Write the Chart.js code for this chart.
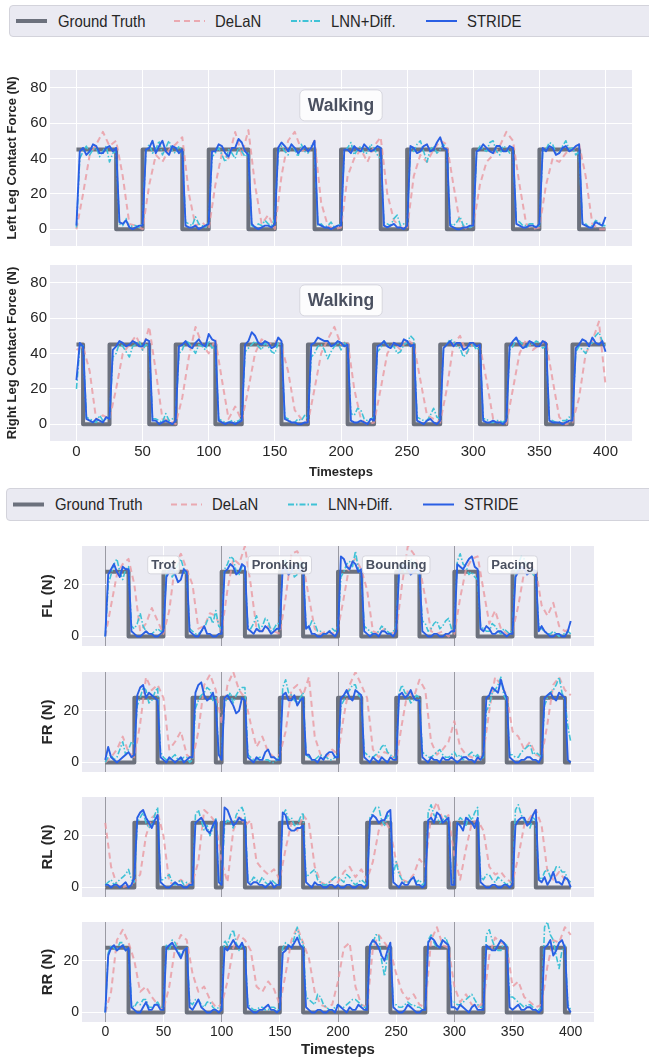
<!DOCTYPE html>
<html>
<head>
<meta charset="utf-8">
<script src="https://cdn.jsdelivr.net/npm/chart.js@4.4.1/dist/chart.umd.min.js"></script>
<style>
  body { margin: 0; background: #fff; font-family: "Liberation Sans", Arial, sans-serif; }
  #page { position: relative; width: 649px; height: 1057px; overflow: hidden; }
  #page canvas { position: absolute; left: 0; }
  .legend { position: absolute; width: 680px; background: #eaeaf2; border: 1px solid #d3d3db; border-radius: 4px; box-sizing: border-box; }
  .legend svg { position: absolute; top: 0; }
  .legend span { position: absolute; top: 0; height: 100%; display: flex; align-items: center; font-size: 16.5px; color: #262626; transform: scaleX(0.9); transform-origin: left center; white-space: nowrap; }
</style>
</head>
<body>
<div id="page"></div>
<script>
// ---- data ----
const X_TICKS = [0, 50, 100, 150, 200, 250, 300, 350, 400];
const Y_TICKS_WALK = [0, 20, 40, 60, 80];
const Y_TICKS_GAIT = [0, 20];
const STEP = 5;        // DeLaN read every 5 timesteps
const STEP_FINE = 2.5; // LNN+Diff. and STRIDE read every 2.5 timesteps
const SERIES = ['Ground Truth', 'DeLaN', 'LNN+Diff.', 'STRIDE'];
const GAIT_NAMES = ['Trot', 'Pronking', 'Bounding', 'Pacing'];
const GAIT_CENTERS = [50, 150, 250, 350];
const GAIT_BOUNDS = [0, 100, 200, 300];

// ground truth as change points [t, value]
const LEFT_GT = [[0,45],[30,0],[50,45],[80,0],[100,45],[130,0],[150,45],[180,0],[200,45],[230,0],[250,45],[280,0],[300,45],[330,0],[350,45],[380,0],[400,0]];
const RIGHT_GT = [[0,45],[5,0],[25,45],[55,0],[75,45],[105,0],[125,45],[155,0],[175,45],[205,0],[225,45],[255,0],[275,45],[305,0],[325,45],[355,0],[375,45],[400,45]];
const FL_GT = [[0,25],[20,0],[50,25],[70,0],[100,25],[120,0],[150,25],[170,0],[200,25],[220,0],[250,25],[270,0],[300,25],[320,0],[350,25],[370,0],[400,0]];
const FR_GT = [[0,0],[25,25],[45,0],[75,25],[95,0],[100,25],[120,0],[150,25],[170,0],[200,25],[220,0],[250,25],[270,0],[325,25],[345,0],[375,25],[395,0],[400,0]];
const RL_GT = [[0,0],[25,25],[45,0],[75,25],[95,0],[100,25],[120,0],[150,25],[170,0],[225,25],[245,0],[275,25],[295,0],[300,25],[320,0],[350,25],[370,0],[400,0]];
const RR_GT = [[0,25],[20,0],[50,25],[70,0],[100,25],[120,0],[150,25],[170,0],[225,25],[245,0],[275,25],[295,0],[325,25],[345,0],[375,25],[395,0],[400,0]];

const LEFT_DELAN = [0,20,42,48,55,47,50,30,3,2,0, 25,42,38,45,48,52,20,2,4,0, 25,43,40,55,42,56,25,3,8,0, 30,50,55,45,43,50,15,2,0,1, 30,40,45,38,47,52,20,5,1,0, 30,42,38,45,50,48,25,3,0,2, 25,38,42,47,55,50,25,3,0,1, 25,40,38,43,45,48,30,3,0,0];
const LEFT_LNN = [1,40,44,47,42,45,46,41,44,47,38,43,44,3,2,6,1,2,2,1, 3,44,48,43,45,50,42,46,50,44,43,47,44,4,3,2,7,3,2,1, 4,41,43,46,42,38,45,43,40,46,44,41,43,2,1,3,2,5,3,2, 6,43,47,44,42,48,45,41,48,44,43,47,46,2,3,1,2,4,1,2, 3,44,46,49,42,45,47,43,43,48,46,42,40,4,3,2,6,8,2,3, 3,46,44,48,50,44,38,45,47,43,45,48,44,3,2,4,7,2,3,1, 2,43,47,45,44,49,50,44,42,47,46,43,44,5,4,2,2,3,3,1, 2,44,45,49,48,43,43,47,50,45,46,42,44,4,3,1,2,5,4,2, 2];
const LEFT_STRIDE = [2,44,46,42,44,48,47,43,43,46,47,44,46,4,3,5,1,0,1,2, 2,45,46,50,43,47,50,44,42,47,46,43,45,2,1,1,2,0,1,2, 3,44,44,48,47,43,41,46,46,51,49,44,42,3,1,0,1,2,2,1, 3,46,49,47,44,48,46,43,45,47,44,46,50,3,2,1,1,0,1,2, 2,45,45,43,47,45,44,48,46,44,45,47,46,2,1,2,3,1,1,0, 2,47,46,43,44,47,48,44,45,49,52,46,45,2,1,0,0,1,1,2, 2,44,45,48,46,44,43,47,47,44,44,47,46,3,2,1,1,2,2,1, 3,46,44,47,46,42,43,46,47,44,45,47,48,3,2,1,1,4,3,2, 7];

const RIGHT_DELAN = [42,44,30,2,5,3,20,40,45,50, 42,55,30,3,2,0,15,38,55,45, 40,48,25,3,10,2,20,40,48,45, 47,44,30,8,3,1,20,40,48,55, 45,47,20,3,0,1,20,40,46,42, 48,45,25,5,3,1,20,45,50,40, 46,44,25,3,1,0,20,40,48,42, 45,47,25,4,0,1,15,40,47,58, 22];
const RIGHT_LNN = [20,43,45,4,3,2,1,5,2,3,4,38,40,46,44,41,38,44,45,47, 42,45,44,3,3,2,1,6,2,3,4,40,42,47,46,43,40,45,44,42, 47,43,45,3,2,1,1,2,1,2,3,41,43,45,47,44,42,46,44,41, 40,46,45,4,3,1,1,3,2,5,3,38,40,44,45,42,37,41,44,46, 42,46,44,6,5,9,8,3,2,3,4,41,43,47,45,44,44,40,41,45, 46,50,48,4,3,2,2,5,9,4,3,43,45,48,47,44,43,38,40,44, 45,42,44,3,3,1,1,2,2,1,3,42,44,48,47,45,43,46,45,47, 46,43,44,3,2,1,1,2,2,4,3,41,44,42,40,45,46,50,52,47, 44];
const RIGHT_STRIDE = [25,46,44,3,2,1,3,2,1,4,3,42,44,47,46,44,45,47,46,44, 44,48,47,2,2,0,1,2,1,0,2,44,45,47,44,43,46,48,45,44, 51,48,47,2,1,0,1,1,0,1,2,45,47,52,50,46,45,47,46,43, 44,49,47,3,2,1,1,0,0,1,1,45,46,49,48,47,47,44,45,47, 46,44,45,2,1,1,2,1,0,3,2,44,45,47,44,43,46,45,44,48, 47,44,45,2,1,0,2,3,1,0,2,43,45,47,44,46,46,42,43,46, 46,44,45,2,1,1,2,1,1,0,2,44,47,49,45,43,44,47,46,44, 44,47,46,2,1,1,1,0,1,2,2,43,45,48,47,44,49,46,45,47, 41];

const FL_DELAN = [0,12,24,28,30,20,2,5,11,6, 1,10,28,32,26,20,3,4,9,8, 2,18,30,28,35,20,3,2,4,2, 1,15,32,33,28,15,3,1,2,1, 3,15,28,30,26,18,2,1,3,1, 2,20,35,32,27,15,2,1,2,0, 1,15,26,30,31,18,5,10,3,1, 2,12,25,28,26,12,8,13,4,2, 3];
const FL_LNN = [0,20,24,28,30,25,22,26,27,4,3,5,9,4,2,1,1,2,3,2, 2,25,27,23,25,28,30,26,24,3,2,1,1,2,3,6,8,5,10,4, 3,26,28,31,30,25,24,27,26,4,3,5,8,3,4,7,6,2,3,5, 5,27,30,25,27,23,24,29,28,4,3,6,5,2,2,1,1,2,3,2, 4,23,25,28,29,27,33,26,24,4,3,2,1,1,2,4,3,2,1,2, 4,26,28,25,26,30,29,25,24,6,5,2,3,5,6,3,4,6,7,3, 3,29,32,28,27,24,25,23,22,4,3,2,2,5,4,2,1,3,2,1, 3,25,28,31,30,27,26,24,23,4,3,2,1,1,2,1,0,1,1,2, 1];
const FL_STRIDE = [0,24,26,28,25,23,27,26,26,2,1,0,0,1,2,1,1,0,0,1, 2,23,25,27,24,21,22,26,25,2,1,0,0,2,4,1,1,0,0,1, 1,25,26,28,27,24,25,28,27,3,2,1,3,2,2,4,3,1,2,3, 3,27,26,24,25,28,27,25,26,3,4,1,1,0,0,1,1,2,1,0, 2,31,30,27,26,29,28,25,26,2,1,0,1,1,0,2,2,1,1,0, 2,25,27,28,26,24,25,26,25,2,1,0,0,1,1,0,0,1,1,2, 2,28,27,26,28,30,31,27,26,3,2,4,3,1,1,2,2,1,0,1, 1,23,25,27,26,24,25,26,25,2,4,2,1,0,0,1,1,0,0,2, 6];

const FR_DELAN = [0,2,5,10,4,2,15,33,28,30, 25,5,8,12,3,1,12,30,34,28, 15,30,35,28,25,15,6,10,4,2, 3,12,28,30,26,33,10,3,2,5, 3,18,30,35,30,25,5,2,4,3, 1,15,28,25,32,28,8,3,5,8, 16,6,3,2,1,4,20,33,30,26, 12,10,5,8,3,2,15,30,33,28, 26];
const FR_LNN = [0,2,3,1,2,5,8,3,5,8,7,22,25,29,28,23,24,27,29,4, 2,1,1,2,3,1,1,2,2,0,1,21,24,26,27,29,28,24,25,3, 3,23,25,27,23,26,28,29,29,3,2,1,1,2,2,1,1,0,0,1, 2,29,32,27,26,24,23,25,27,3,2,1,1,2,3,2,2,1,1,2, 3,22,24,27,28,30,30,26,25,4,3,2,2,3,4,6,7,4,3,2, 2,27,30,27,26,23,24,26,25,4,3,2,2,3,4,5,3,2,2,3, 4,2,3,1,2,3,4,2,3,1,2,20,22,27,28,30,33,26,24,3, 3,2,2,4,5,6,7,3,4,3,2,22,25,27,28,30,33,27,24,14, 8];
const FR_STRIDE = [1,6,2,1,0,1,2,3,4,2,3,26,29,30,25,27,26,25,24,2, 1,0,2,1,0,1,2,0,1,2,2,27,30,31,26,24,25,27,22,3, 1,25,26,24,22,19,20,25,24,2,1,0,2,1,1,4,5,2,2,1, 1,26,27,24,24,26,22,24,25,3,3,1,1,0,2,1,3,4,4,2, 2,25,26,28,25,24,28,27,26,2,1,0,2,1,0,2,1,0,2,1, 1,26,27,25,26,28,25,24,24,2,1,0,2,1,1,0,2,1,1,2, 1,0,1,2,2,1,1,0,2,1,3,25,26,29,28,27,32,28,25,2, 1,0,0,1,1,2,2,1,1,0,2,25,26,27,25,24,27,26,25,1, 0];

const RL_DELAN = [25,8,1,0,1,2,5,20,27,29, 20,2,1,3,1,2,10,30,28,25, 10,2,22,28,24,26,10,7,5,7, 3,15,25,22,28,25,8,2,1,3, 2,6,8,4,7,3,10,22,26,22, 10,3,2,5,11,8,28,33,26,28, 12,3,15,25,26,22,8,5,6,3, 2,12,24,27,30,24,6,3,6,3, 2];
const RL_LNN = [1,2,3,1,2,3,4,5,7,3,2,25,27,29,25,23,24,28,31,3, 3,4,5,2,1,2,3,1,2,1,1,28,30,26,22,24,20,23,27,2, 2,24,26,25,23,28,30,31,28,3,2,4,3,2,4,2,1,3,2,1, 1,28,30,26,27,24,24,27,29,4,5,6,7,3,2,1,1,2,3,4, 4,3,2,5,4,2,1,2,3,2,1,27,29,31,31,26,24,28,27,5, 10,5,3,2,2,3,4,2,3,1,2,29,32,28,27,25,26,28,25,3, 3,25,27,26,24,28,26,29,31,4,3,5,5,3,2,4,3,2,1,2, 2,30,32,28,26,24,23,27,26,4,3,6,7,4,5,8,8,6,6,3, 2];
const RL_STRIDE = [1,1,0,1,1,0,1,2,0,1,4,27,29,30,27,25,23,26,28,2, 1,0,0,1,2,1,1,0,0,1,1,25,26,27,25,22,21,24,26,2, 1,31,30,27,24,25,27,26,26,2,1,2,2,1,1,0,1,2,0,1, 1,29,28,23,22,22,23,23,24,2,1,0,2,1,1,0,0,1,1,0, 1,0,0,1,1,0,0,1,1,0,1,26,28,27,25,26,26,29,30,2, 1,0,2,1,1,3,4,1,1,0,1,26,27,25,29,28,25,26,27,1, 1,25,24,22,27,26,25,23,27,2,1,0,0,1,1,0,0,1,1,0, 1,24,26,27,27,24,25,28,30,3,2,4,1,3,6,2,2,1,4,3, 0];

const RR_DELAN = [0,8,28,32,27,20,8,10,6,3, 1,10,25,30,28,15,8,10,5,2, 3,12,25,30,28,24,10,8,12,9, 3,15,28,33,27,21,8,3,2,3, 12,25,27,10,3,2,25,30,27,24, 15,8,5,7,3,2,28,33,26,25, 10,4,7,3,2,4,22,29,27,26, 10,12,6,4,2,3,18,28,27,33, 30];
const RR_LNN = [0,23,26,25,24,27,27,24,25,3,2,4,3,5,5,2,2,3,4,2, 2,26,24,28,27,24,22,24,25,4,3,5,5,3,2,4,4,2,1,2, 2,28,26,30,32,27,24,26,25,3,2,1,1,2,2,1,1,2,2,1, 1,25,27,26,25,29,33,28,27,6,5,4,3,7,6,3,2,1,1,2, 3,2,2,3,4,5,5,4,3,2,2,25,27,30,30,20,14,22,26,3, 3,2,2,3,4,3,3,2,2,1,1,28,30,27,25,26,28,29,26,4, 4,3,3,4,5,6,7,5,3,2,2,30,32,28,25,24,24,27,26,6, 6,5,4,3,2,3,3,2,1,1,2,33,35,30,28,22,17,24,26,3, 1];
const RR_STRIDE = [0,22,25,26,24,25,26,24,25,2,1,0,0,2,4,1,1,3,3,1, 1,25,26,27,25,23,21,24,25,2,1,3,5,2,1,0,0,1,1,0, 1,25,24,26,28,26,25,27,24,2,1,0,0,1,1,2,3,1,1,0, 1,23,24,26,25,27,29,26,25,2,1,0,0,1,1,0,0,1,1,0, 3,2,1,0,2,1,1,3,2,1,1,26,28,27,25,22,20,24,27,2, 1,0,0,1,3,2,1,0,0,1,1,27,29,28,26,25,28,27,26,2, 2,1,3,2,1,0,2,3,1,1,1,26,25,24,24,26,28,27,25,2, 1,2,3,1,1,2,2,1,1,0,1,25,26,28,22,24,27,28,25,2, 0];

// ---- styling ----
const FONT = '"Liberation Sans", Arial, sans-serif';
Chart.defaults.font.family = FONT;
const INK = '#262626';
const COLORS = { gt: '#6c717d', delan: 'rgba(234,152,160,0.8)', lnn: '#3fc2d6', stride: '#2a5fe4' };
const DASH = { gt: [], delan: [6, 4], lnn: [6, 2, 1.5, 2], stride: [] };
const WIDTH = { gt: 4, delan: 2, lnn: 1.6, stride: 1.9 };
const KEYS = ['gt', 'delan', 'lnn', 'stride'];

const page = document.getElementById('page');

// legends (html)
function legend(left, topPx, height) {
  const box = document.createElement('div');
  box.className = 'legend';
  box.style.left = left + 'px'; box.style.top = topPx + 'px'; box.style.height = height + 'px';
  const lineX = [5, 163, 280, 415], textX = [48, 205, 321, 457];
  KEYS.forEach((k, i) => {
    const svg = document.createElementNS('http://www.w3.org/2000/svg', 'svg');
    svg.setAttribute('width', 33); svg.setAttribute('height', height);
    svg.style.left = lineX[i] + 'px';
    const ln = document.createElementNS('http://www.w3.org/2000/svg', 'line');
    ln.setAttribute('x1', 1); ln.setAttribute('x2', 32);
    ln.setAttribute('y1', height / 2 - 1); ln.setAttribute('y2', height / 2 - 1);
    ln.setAttribute('stroke', COLORS[k]); ln.setAttribute('stroke-width', Math.max(WIDTH[k], 2));
    if (DASH[k].length) ln.setAttribute('stroke-dasharray', DASH[k].join(' '));
    svg.appendChild(ln); box.appendChild(svg);
    const t = document.createElement('span');
    t.textContent = SERIES[i];
    t.style.left = textX[i] + 'px';
    box.appendChild(t);
  });
  page.appendChild(box);
}
legend(9, 5, 32);
legend(6, 488, 33);

// plugins
const bgPlugin = {
  id: 'bg',
  beforeDraw(chart) {
    const { ctx, chartArea: a } = chart;
    ctx.save();
    ctx.fillStyle = '#eaeaf2';
    ctx.fillRect(a.left, a.top, a.right - a.left, a.bottom - a.top);
    ctx.restore();
  }
};
const boxLabelPlugin = {
  id: 'boxLabels',
  afterDatasetsDraw(chart, args, opts) {
    if (!opts.items) return;
    const { ctx, scales: { x, y } } = chart;
    ctx.save();
    ctx.font = opts.font;
    ctx.textAlign = 'center';
    ctx.textBaseline = 'middle';
    opts.items.forEach(it => {
      const cx = x.getPixelForValue(it.x), cy = y.getPixelForValue(it.y);
      const w = ctx.measureText(it.text).width + 2 * opts.padX, h = opts.h;
      ctx.beginPath();
      ctx.roundRect(cx - w / 2, cy - h / 2, w, h, opts.radius);
      ctx.fillStyle = 'rgba(255,255,255,0.85)';
      ctx.fill();
      ctx.strokeStyle = '#d6d6de';
      ctx.lineWidth = 1;
      ctx.stroke();
      ctx.fillStyle = '#4a5060';
      ctx.fillText(it.text, cx, cy + 1);
    });
    ctx.restore();
  }
};

function dataset(k, data) {
  return {
    label: SERIES[KEYS.indexOf(k)],
    data: data,
    borderColor: COLORS[k],
    borderWidth: WIDTH[k],
    borderDash: DASH[k],
    stepped: k === 'gt',
    order: 4 - KEYS.indexOf(k),
    pointRadius: 0,
    tension: 0,
    borderJoinStyle: 'round',
    fill: false
  };
}
const pts = (vals, step) => vals.map((v, i) => ({ x: i * step, y: v }));
const steps = pairs => pairs.map(([x, y]) => ({ x, y }));

function plot(p) {
  const cv = document.createElement('canvas');
  cv.width = 649; cv.height = p.h;
  cv.style.top = p.top + 'px';
  page.appendChild(cv);
  const gait = p.gait;
  new Chart(cv, {
    type: 'line',
    data: {
      datasets: [
        dataset('gt', steps(p.gt)),
        dataset('delan', pts(p.delan, STEP)),
        dataset('lnn', pts(p.lnn, STEP_FINE)),
        dataset('stride', pts(p.stride, STEP_FINE))
      ]
    },
    options: {
      responsive: false,
      animation: false,
      events: [],
      layout: { padding: { left: 0, right: p.right, top: 0, bottom: 0 } },
      plugins: {
        legend: { display: false },
        tooltip: { enabled: false },
        boxLabels: p.labels
      },
      scales: {
        x: {
          type: 'linear', min: -20, max: 420,
          afterBuildTicks: s => { s.ticks = X_TICKS.map(v => ({ value: v })); },
          afterFit: s => { s.height = p.xh; s.paddingLeft = 0; s.paddingRight = 0; },
          border: { display: false },
          grid: {
            drawTicks: false, lineWidth: 1,
            color: c => (gait && c.tick && GAIT_BOUNDS.includes(c.tick.value)) ? '#9a9aa3' : '#ffffff'
          },
          ticks: { display: p.showX, padding: 2, color: INK, font: { size: p.tick } },
          title: { display: p.showX, text: 'Timesteps', color: INK, font: { size: p.xtSize, weight: 'bold' }, padding: { top: 0, bottom: p.xtPad } }
        },
        y: {
          min: p.ymin, max: p.ymax,
          afterBuildTicks: s => { s.ticks = p.yticks.map(v => ({ value: v })); },
          afterFit: s => { s.width = p.yw; s.paddingTop = 0; s.paddingBottom = 0; },
          border: { display: false },
          grid: { drawTicks: false, color: '#ffffff', lineWidth: 1 },
          ticks: { padding: 3, color: INK, font: { size: p.tick } },
          title: { display: true, text: p.ytitle, color: INK, font: { size: p.ytSize, weight: 'bold' }, padding: { top: p.ytPad, bottom: 0 } }
        }
      }
    },
    plugins: [bgPlugin, boxLabelPlugin]
  });
}

const walkLabel = { items: [{ x: 200, y: 70, text: 'Walking' }], font: 'bold 17.5px ' + FONT, padX: 8, h: 31, radius: 5 };
const gaitLabel = { items: GAIT_NAMES.map((n, i) => ({ x: GAIT_CENTERS[i], y: 27.7, text: n })), font: 'bold 13px ' + FONT, padX: 3.5, h: 18, radius: 3 };
const WALK_CFG = { yw: 50, right: 17, ymin: -9.5, ymax: 90, yticks: Y_TICKS_WALK, tick: 15, ytSize: 13, ytPad: 5, xtSize: 13, xtPad: 2.5, gait: false };
const GAIT_CFG = { yw: 82, right: 55, ymin: -3.7, ymax: 35, yticks: Y_TICKS_GAIT, tick: 14, ytSize: 15, ytPad: 39, xtSize: 15, xtPad: 0, gait: true, h: 100, xh: 0, showX: false, labels: {} };

plot(Object.assign({}, WALK_CFG, { top: 70, h: 176, xh: 0, showX: false, ytitle: 'Left Leg Contact Force (N)', gt: LEFT_GT, delan: LEFT_DELAN, lnn: LEFT_LNN, stride: LEFT_STRIDE, labels: walkLabel }));
plot(Object.assign({}, WALK_CFG, { top: 265, h: 218, xh: 42, showX: true, ytitle: 'Right Leg Contact Force (N)', gt: RIGHT_GT, delan: RIGHT_DELAN, lnn: RIGHT_LNN, stride: RIGHT_STRIDE, labels: walkLabel }));
plot(Object.assign({}, GAIT_CFG, { top: 546, ytitle: 'FL (N)', gt: FL_GT, delan: FL_DELAN, lnn: FL_LNN, stride: FL_STRIDE, labels: gaitLabel }));
plot(Object.assign({}, GAIT_CFG, { top: 672, ytitle: 'FR (N)', gt: FR_GT, delan: FR_DELAN, lnn: FR_LNN, stride: FR_STRIDE }));
plot(Object.assign({}, GAIT_CFG, { top: 797, ytitle: 'RL (N)', gt: RL_GT, delan: RL_DELAN, lnn: RL_LNN, stride: RL_STRIDE }));
plot(Object.assign({}, GAIT_CFG, { top: 922, h: 137, xh: 37, showX: true, ytitle: 'RR (N)', gt: RR_GT, delan: RR_DELAN, lnn: RR_LNN, stride: RR_STRIDE }));
</script>
</body>
</html>
